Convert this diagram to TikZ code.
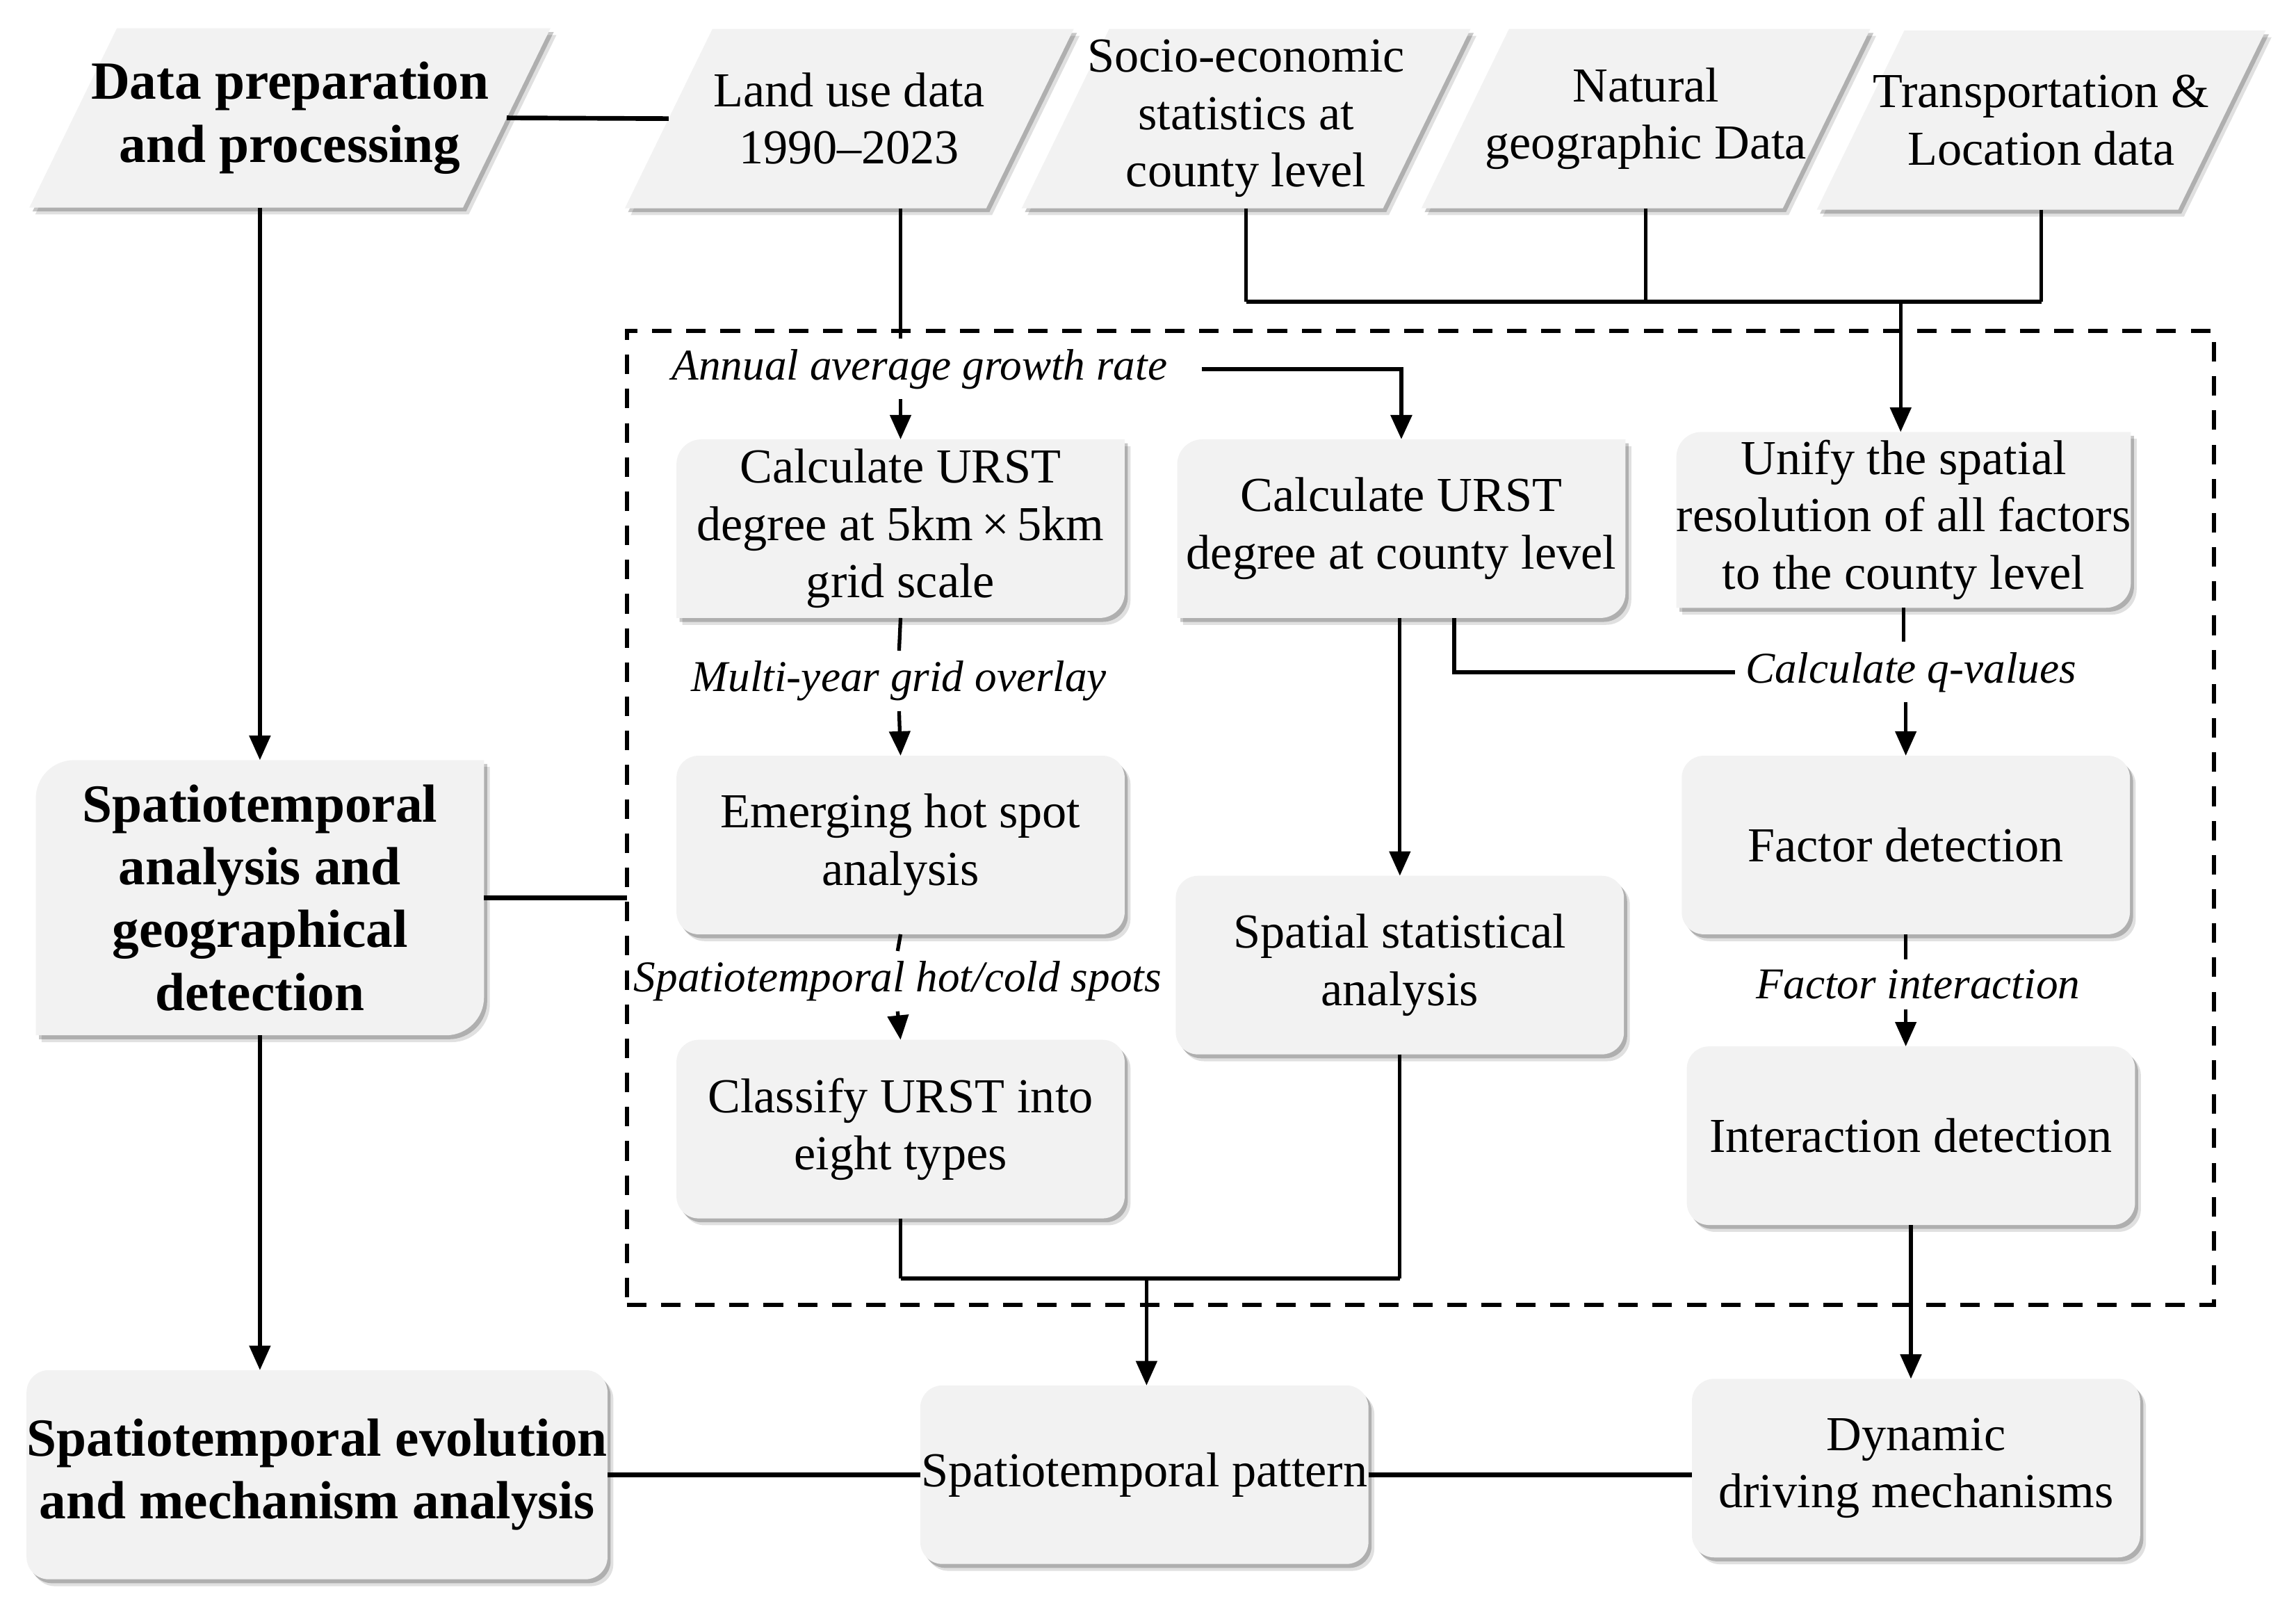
\documentclass[tikz,border=0pt]{standalone}
\usepackage{fontspec}
\setmainfont{Liberation Serif}
\usetikzlibrary{arrows.meta,shadows,backgrounds}
\definecolor{boxgray}{HTML}{F2F2F2}

\begin{document}
\begin{tikzpicture}[x=0.021066cm,y=-0.021066cm,
  boxshadow/.style={drop shadow={shadow xshift=2.4pt,shadow yshift=-2.8pt,fill=black,opacity=.12},
                    drop shadow={shadow xshift=1.3pt,shadow yshift=-1.6pt,fill=black,opacity=.22}},
  txt/.style={font=\fontsize{20}{23.5}\selectfont, align=center},
  head/.style={font=\fontsize{22}{25.7}\selectfont\bfseries, align=center},
  databox/.style={rectangle, minimum width=5.2cm, minimum height=2.58cm,
    inner sep=0pt, outer sep=0pt, txt},
  roundbox/.style={rectangle, rounded corners=0.32cm, fill=boxgray, boxshadow,
    minimum width=6.45cm, minimum height=2.57cm, inner sep=0pt, outer sep=0pt, txt},
  diagbox/.style={rectangle, minimum width=6.45cm, minimum height=2.57cm,
    inner sep=0pt, outer sep=0pt, txt},
  flowlabel/.style={font=\fontsize{18}{21}\selectfont\itshape, inner sep=4pt},
  conn/.style={line width=1.5pt},
  thickconn/.style={line width=1.9pt},
  arrowconn/.style={line width=1.5pt, -{Triangle[length=10pt,width=8.5pt]}},
]
  \useasboundingbox (0,0) rectangle (1568,1098);

  % input data
  \node[databox, head, minimum width=6.24cm] (prep) at (198,80.5) {Data preparation\\and processing};
  \node[databox] (land) at (580,81) {Land use data\\1990–2023};
  \node[databox] (socio) at (851,81) {Socio-economic\\statistics at\\county level};
  \node[databox] (natural) at (1124,81) {Natural\\geographic Data};
  \node[databox] (trans) at (1394,82) {Transportation \&\\Location data};

  % analysis frame
  \node[draw, line width=1.8pt, dash pattern=on 8pt off 6pt, minimum width=22.84cm,
    minimum height=14.01cm, inner sep=0pt, outer sep=0pt] (frame) at (970,558.5) {};

  \node[diagbox] (grid) at (615,361) {Calculate URST\\degree at 5km\,×\,5km\\grid scale};
  \node[diagbox] (county) at (957,361) {Calculate URST\\degree at county level};
  \node[diagbox, minimum height=2.53cm] (unify) at (1300,355) {Unify the spatial\\resolution of all factors\\to the county level};
  \node[diagbox, head, minimum height=3.96cm] (sa) at (177.5,613) {Spatiotemporal\\analysis and\\geographical\\detection};

  \node[roundbox] (emerge) at (615,577) {Emerging hot spot\\analysis};
  \node[roundbox] (stat) at (956,659) {Spatial statistical\\analysis};
  \node[roundbox] (classify) at (615,771) {Classify URST into\\eight types};
  \node[roundbox] (factor) at (1301.5,577) {Factor detection};
  \node[roundbox] (interact) at (1305,775.5) {Interaction detection};

  % results
  \node[roundbox, head, minimum width=8.36cm, minimum height=3.01cm] (evol) at (216.5,1007) {Spatiotemporal evolution\\and mechanism analysis};
  \node[roundbox] (pattern) at (781.5,1007) {Spatiotemporal pattern};
  \node[roundbox] (dynamic) at (1308.5,1002.5) {Dynamic\\driving mechanisms};

  % step labels
  \node[flowlabel] (annual) at (628,252) {Annual average growth rate};
  \node[flowlabel] (multi) at (614,465) {Multi-year grid overlay};
  \node[flowlabel] (hotcold) at (613,670) {Spatiotemporal hot/cold spots};
  \node[flowlabel] (qval) at (1305,459) {Calculate q-values};
  \node[flowlabel] (factint) at (1310,672) {Factor interaction};

  % parallelograms and boxes with two rounded corners
  \begin{scope}[on background layer]
    \foreach \n in {prep,land,socio,natural,trans}
      \fill[boxgray, boxshadow] ([xshift=0.63cm]\n.north west) -- ([xshift=0.63cm]\n.north east)
        -- ([xshift=-0.63cm]\n.south east) -- ([xshift=-0.63cm]\n.south west) -- cycle;
    \foreach \n/\rad in {grid/0.36cm,county/0.36cm,unify/0.36cm,sa/0.55cm}
      \fill[boxgray, boxshadow] ([yshift=-\rad]\n.north west) arc[start angle=180,end angle=90,radius=\rad]
        -- (\n.north east) -- ([yshift=\rad]\n.south east) arc[start angle=0,end angle=-90,radius=\rad]
        -- (\n.south west) -- cycle;
  \end{scope}

  % connectors
  \draw[thickconn] (prep.east) -- (land.west);
  \draw[arrowconn] (prep.south -| sa.north) -- (sa.north);
  \draw[conn] (land.south -| grid.north) -- (annual.north -| grid.north);
  \draw[arrowconn] (annual.south -| grid.north) -- (grid.north);
  \draw[thickconn, -{Triangle[length=10pt,width=8.5pt]}] ([xshift=0.35cm]annual.east) -| (county.north);

  \coordinate (merge) at (1298,206);
  \draw[conn] (socio.south) -- (socio.south |- merge);
  \draw[conn] (natural.south) -- (natural.south |- merge);
  \draw[conn] (trans.south) -- (trans.south |- merge);
  \draw[thickconn] (socio.south |- merge) -- (trans.south |- merge);
  \draw[arrowconn] (merge) -- (merge |- unify.north);

  \draw[conn] (grid.south) -- (multi.north);
  \draw[arrowconn] (multi.south) -- (emerge.north);
  \draw[conn] (emerge.south) -- (hotcold.north);
  \draw[arrowconn] (hotcold.south) -- (classify.north);

  \draw[arrowconn] (county.south -| stat.north) -- (stat.north);
  \draw[conn] ([xshift=0.76cm]county.south) |- (qval.west);
  \draw[conn] (unify.south) -- (unify.south |- qval.north);
  \draw[arrowconn] (factor.north |- qval.south) -- (factor.north);
  \draw[conn] (factor.south) -- (factor.south |- factint.north);
  \draw[arrowconn] (factor.south |- factint.south) -- (factor.south |- interact.north);

  \coordinate (join) at (783,873);
  \draw[conn] (classify.south) -- (classify.south |- join);
  \draw[conn] (stat.south) -- (stat.south |- join);
  \draw[thickconn] (classify.south |- join) -- (stat.south |- join);
  \draw[arrowconn] (join) -- (join |- pattern.north);
  \draw[arrowconn] (interact.south) -- (interact.south |- dynamic.north);

  \draw[thickconn] (sa.east) -- (sa.east -| frame.west);
  \draw[arrowconn] (sa.south) -- (sa.south |- evol.north);
  \draw[thickconn] (evol.east) -- (pattern.west);
  \draw[thickconn] (pattern.east) -- (pattern.east -| dynamic.west);
\end{tikzpicture}
\end{document}
